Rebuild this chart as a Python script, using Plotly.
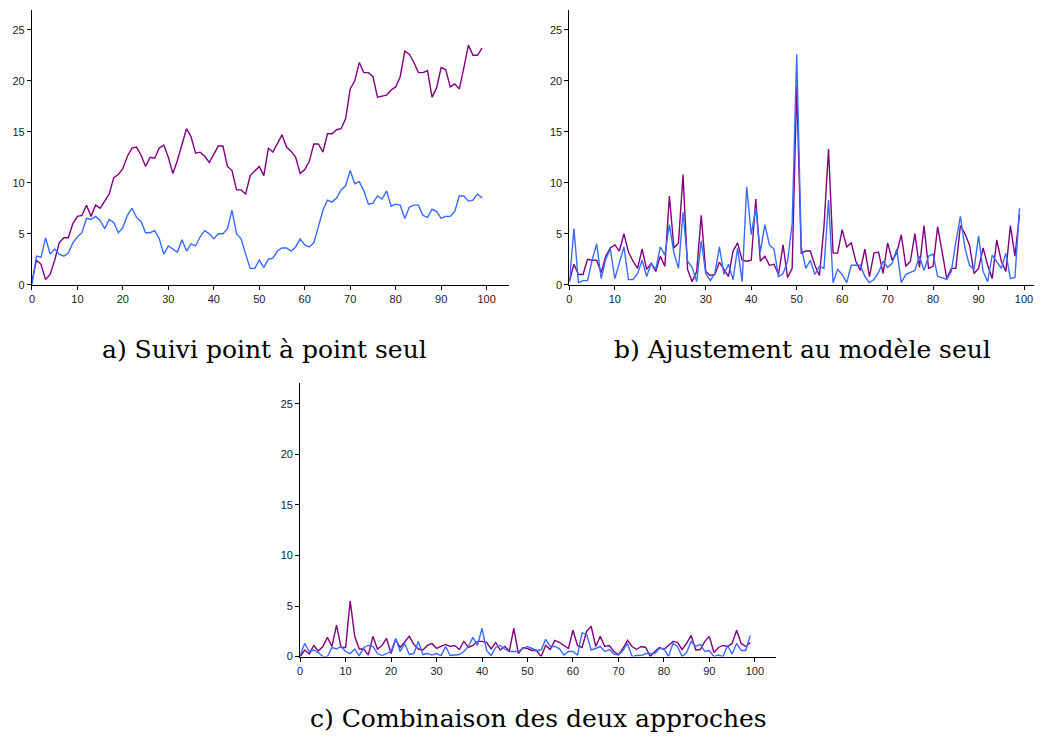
import plotly.graph_objects as go

x_vals = list(range(100))

# a) Suivi point à point seul
a_purple = [0.3, 2.4, 2.0, 0.5, 1.0, 2.4, 4.1, 4.6, 4.6, 6.0,
            6.7, 6.8, 7.8, 6.7, 7.8, 7.5, 8.2, 8.9, 10.5, 10.8,
            11.4, 12.6, 13.4, 13.5, 12.7, 11.6, 12.5, 12.4, 13.4, 13.7,
            12.5, 10.9, 12.2, 13.7, 15.3, 14.5, 12.9, 13.0, 12.6, 12.0,
            12.8, 13.6, 13.6, 11.6, 11.2, 9.3, 9.3, 8.9, 10.7, 11.2,
            11.6, 10.7, 13.4, 13.0, 13.8, 14.7, 13.5, 13.1, 12.5, 10.9,
            11.3, 12.1, 13.8, 13.8, 13.0, 14.8, 14.8, 15.2, 15.3, 16.3,
            19.2, 20.0, 21.8, 20.8, 20.8, 20.4, 18.4, 18.5, 18.6, 19.1,
            19.4, 20.4, 22.9, 22.6, 21.8, 20.8, 20.8, 21.0, 18.4, 19.3,
            21.3, 21.1, 19.4, 19.7, 19.2, 21.3, 23.5, 22.5, 22.5, 23.2]
a_blue = [0.0, 2.8, 2.7, 4.6, 3.0, 3.5, 3.0, 2.8, 3.1, 4.1,
          4.7, 5.1, 6.5, 6.4, 6.7, 6.3, 5.5, 6.4, 6.1, 5.1,
          5.6, 6.8, 7.5, 6.6, 6.2, 5.1, 5.1, 5.3, 4.5, 3.0,
          3.8, 3.5, 3.2, 4.4, 3.3, 4.0, 3.8, 4.7, 5.3, 5.0,
          4.5, 5.0, 5.0, 5.5, 7.3, 5.0, 4.5, 3.0, 1.6, 1.6,
          2.4, 1.7, 2.5, 2.6, 3.3, 3.6, 3.6, 3.3, 3.7, 4.5,
          3.9, 3.7, 4.1, 5.7, 7.3, 8.3, 8.1, 8.5, 9.3, 9.7,
          11.2, 9.9, 10.1, 9.2, 7.9, 8.0, 8.7, 8.4, 9.2, 7.7,
          7.9, 7.8, 6.5, 7.6, 7.8, 7.8, 6.8, 6.6, 7.4, 7.2,
          6.5, 6.7, 6.7, 7.2, 8.7, 8.7, 8.2, 8.3, 8.9, 8.5]

# b) Ajustement au modèle seul
b_purple = [0.3, 2.0, 1.0, 1.0, 2.5, 2.4, 2.4, 1.2, 2.8, 3.6,
            3.9, 3.3, 5.0, 3.2, 2.3, 1.6, 3.5, 1.5, 2.1, 1.3,
            2.8, 1.8, 8.7, 3.6, 4.1, 10.8, 1.5, 0.3, 1.3, 6.8,
            1.3, 0.9, 1.0, 2.2, 1.5, 0.8, 3.3, 4.1, 2.4, 2.3,
            2.4, 8.4, 2.3, 2.8, 1.9, 2.0, 1.0, 3.9, 0.7, 1.6,
            19.5, 3.1, 3.3, 3.3, 1.9, 0.9, 5.7, 13.3, 3.1, 3.1,
            5.4, 3.7, 4.1, 2.3, 1.4, 3.5, 0.8, 3.1, 3.2, 1.1,
            4.1, 2.4, 3.1, 4.9, 1.8, 2.3, 5.0, 1.7, 5.8, 1.6,
            1.8, 5.7, 3.2, 0.6, 1.6, 1.6, 5.8, 5.0, 3.9, 1.1,
            1.6, 3.6, 1.9, 0.6, 4.4, 2.3, 1.3, 5.8, 2.8, 6.9]
b_blue = [0.2, 5.5, 0.2, 0.4, 0.4, 2.4, 4.0, 0.6, 2.5, 3.5,
          0.6, 2.1, 3.7, 0.5, 0.5, 1.1, 2.4, 0.8, 2.1, 1.5,
          3.7, 2.9, 5.9, 3.1, 1.6, 7.1, 2.3, 1.7, 0.3, 4.3,
          1.1, 0.4, 1.1, 3.7, 1.0, 2.0, 0.5, 3.6, 0.3, 9.6,
          4.9, 7.5, 3.2, 5.9, 3.9, 3.5, 0.8, 1.1, 2.3, 6.0,
          22.6, 3.7, 1.6, 2.4, 1.0, 1.8, 1.6, 8.3, 0.2, 1.5,
          1.0, 0.2, 1.9, 1.9, 1.9, 0.8, 0.2, 0.5, 1.2, 2.3,
          1.7, 2.1, 3.5, 0.2, 1.0, 1.2, 1.4, 2.8, 1.4, 2.8,
          3.0, 0.8, 0.7, 0.5, 1.3, 4.2, 6.7, 3.6, 1.9, 1.5,
          4.8, 1.3, 0.3, 2.9, 2.3, 1.6, 3.1, 0.6, 0.7, 7.5]

# c) Combinaison des deux approches
c_purple = [0.0, 0.65, 0.26, 1.1, 0.55, 1.0, 1.9, 1.0, 3.1, 0.9,
            0.9, 5.5, 2.0, 0.75, 0.75, 0.15, 2.0, 0.75, 1.1, 1.8,
            0.3, 1.7, 0.9, 1.5, 2.0, 1.2, 0.75, 0.65, 1.1, 1.3,
            0.8, 1.0, 1.2, 1.0, 1.1, 0.7, 1.5, 0.9, 1.1, 1.5,
            1.5, 1.4, 0.75, 1.4, 0.65, 1.0, 0.55, 2.8, 0.3, 0.9,
            0.8, 0.6, 0.6, 0.0, 1.1, 0.7, 1.6, 1.4, 1.1, 0.8,
            2.6, 1.1, 0.9, 2.5, 3.0, 1.0, 2.0, 1.0, 1.1, 0.5,
            0.2, 0.8, 1.6, 1.0, 0.7, 1.0, 0.9, 0.0, 0.5, 0.9,
            0.7, 1.1, 1.5, 1.4, 0.7, 1.3, 2.1, 0.65, 0.7, 1.5,
            2.0, 0.4, 0.9, 1.1, 1.0, 1.3, 2.6, 1.3, 1.0, 1.4]
c_blue = [0.15, 1.3, 0.5, 0.65, 0.4, 0.0, 0.0, 0.9, 0.75, 1.0,
          0.5, 0.3, 0.75, 0.1, 0.9, 1.1, 1.0, 0.3, 0.1, 0.3,
          0.5, 1.8, 0.5, 1.3, 0.2, 0.3, 1.5, 0.2, 0.3, 0.15,
          0.3, 0.1, 1.0, 0.1, 0.15, 0.2, 0.5, 1.0, 1.9, 1.1,
          2.8, 0.6, 0.1, 0.9, 1.1, 0.75, 0.5, 0.5, 0.5, 0.8,
          1.0, 0.8, 0.6, 0.65, 1.7, 1.0, 1.0, 0.8, 0.15, 0.5,
          0.5, 0.15, 2.35, 2.2, 0.65, 0.8, 1.0, 0.5, 0.7, 0.25,
          0.15, 0.6, 1.3, 0.0, 0.1, 0.1, 0.3, 0.3, 0.3, 0.8,
          0.8, 0.0, 1.3, 1.0, 0.0, 0.4, 1.5, 1.0, 1.2, 0.5,
          0.6, 0.0, 0.15, 0.0, 1.1, 0.25, 1.3, 0.6, 0.6, 2.1]

captions = ["a) Suivi point à point seul",
            "b) Ajustement au modèle seul",
            "c) Combinaison des deux approches"]

x_ticks = list(range(0, 101, 10))
y_ticks = list(range(0, 26, 5))

PURPLE = "#800080"
BLUE = "#3A6BFF"
# the page body adds a margin, so the figure is shrunk to fit the window
OX, OY = 11, 6
W, H = 1029, 724

fig = go.Figure()

panels = [
    ("x", "y", a_purple, a_blue),
    ("x2", "y2", b_purple, b_blue),
    ("x3", "y3", c_purple, c_blue),
]
for xa, ya, p, b in panels:
    fig.add_trace(go.Scatter(x=x_vals, y=p, mode="lines", xaxis=xa, yaxis=ya,
                             line=dict(color=PURPLE, width=1.4), showlegend=False))
    fig.add_trace(go.Scatter(x=x_vals, y=b, mode="lines", xaxis=xa, yaxis=ya,
                             line=dict(color=BLUE, width=1.4), showlegend=False))

tickfont = dict(family="Liberation Sans, Arial", size=11, color="#222")
axis_common = dict(showgrid=False, zeroline=False, showline=True, linecolor="black",
                   linewidth=1, ticks="outside", ticklen=4, tickcolor="black",
                   tickfont=tickfont)

def xaxis(px0, px1, anchor):
    # px are screen pixels in the reference
    rmax = (px1 - px0) / 4.56
    return dict(axis_common, domain=[(px0 - OX) / W, min(1, (px1 - OX) / W)],
                range=[0, rmax], tickvals=x_ticks, anchor=anchor)

def yaxis(py0, py_top, anchor, per_unit):
    rmax = (py0 - py_top) / per_unit
    return dict(axis_common, domain=[(H - (py0 - OY)) / H, (H - (py_top - OY)) / H],
                range=[0, rmax], tickvals=y_ticks, anchor=anchor)

fig.update_layout(
    width=W, height=H,
    margin=dict(l=0, r=0, t=0, b=0),
    paper_bgcolor="white", plot_bgcolor="white",
    xaxis=xaxis(32, 510, "y"),
    yaxis=yaxis(285, 8, "x", 10.28),
    xaxis2=xaxis(571, 1037, "y2"),
    yaxis2=yaxis(285, 8, "x2", 10.28),
    xaxis3=xaxis(301, 778, "y3"),
    yaxis3=yaxis(660, 384, "x3", 10.2),
)

cap_font = dict(family="DejaVu Serif, serif", size=25, color="black")
for text, cx, cy in zip(captions, [265, 805, 540], [350, 350, 722]):
    fig.add_annotation(text=text, xref="paper", yref="paper",
                       x=(cx - OX) / W, y=(H - (cy - OY)) / H,
                       xanchor="center", yanchor="middle", showarrow=False, font=cap_font)

fig.write_html("out.html")
